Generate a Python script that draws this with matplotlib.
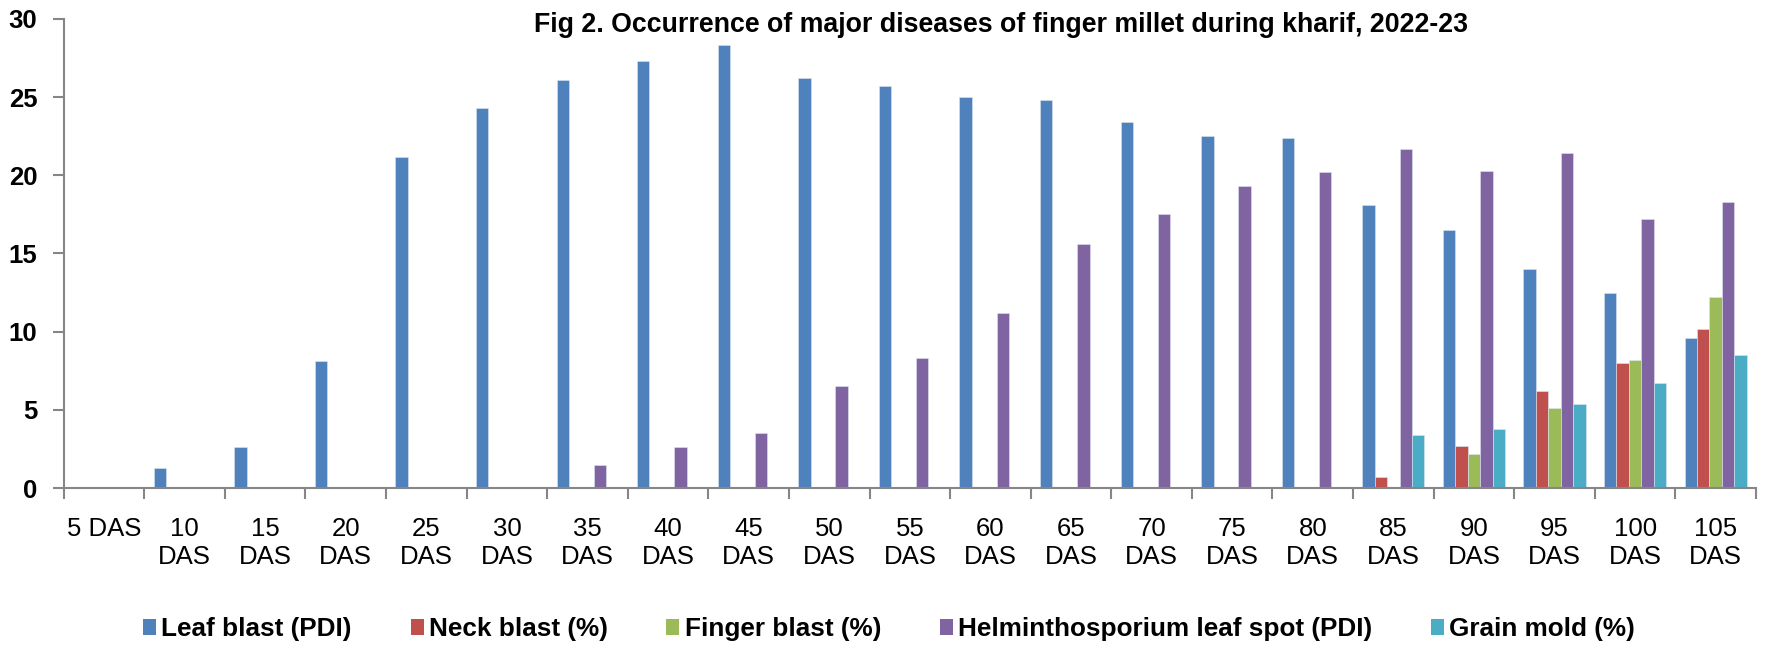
import numpy as np
import matplotlib.pyplot as plt
from matplotlib.patches import Patch

plt.rcParams['font.family'] = ['Liberation Sans', 'DejaVu Sans']

days = ['5 DAS', '10\nDAS', '15\nDAS', '20\nDAS', '25\nDAS', '30\nDAS', '35\nDAS',
        '40\nDAS', '45\nDAS', '50\nDAS', '55\nDAS', '60\nDAS', '65\nDAS', '70\nDAS',
        '75\nDAS', '80\nDAS', '85\nDAS', '90\nDAS', '95\nDAS', '100\nDAS', '105\nDAS']

leaf_blast = [0, 1.3, 2.6, 8.1, 21.2, 24.3, 26.1, 27.3, 28.3, 26.2, 25.7,
              25.0, 24.8, 23.4, 22.5, 22.4, 18.1, 16.5, 14.0, 12.5, 9.6]
neck_blast = [0, 0, 0, 0, 0, 0, 0, 0, 0, 0, 0,
              0, 0, 0, 0, 0, 0.7, 2.7, 6.2, 8.0, 10.2]
finger_blast = [0, 0, 0, 0, 0, 0, 0, 0, 0, 0, 0,
                0, 0, 0, 0, 0, 0, 2.2, 5.1, 8.2, 12.2]
helmintho = [0, 0, 0, 0, 0, 0, 1.5, 2.6, 3.5, 6.5, 8.3,
             11.2, 15.6, 17.5, 19.3, 20.2, 21.7, 20.3, 21.4, 17.2, 18.3]
grain_mold = [0, 0, 0, 0, 0, 0, 0, 0, 0, 0, 0,
              0, 0, 0, 0, 0, 3.4, 3.8, 5.4, 6.7, 8.5]

series = [
    ('Leaf blast (PDI)', leaf_blast, '#4F81BD'),
    ('Neck blast (%)', neck_blast, '#C0504D'),
    ('Finger blast (%)', finger_blast, '#9BBB59'),
    ('Helminthosporium leaf spot (PDI)', helmintho, '#8064A2'),
    ('Grain mold (%)', grain_mold, '#4BACC6'),
]

fig = plt.figure(figsize=(17.71, 6.52), dpi=100)
ax = fig.add_axes([0.036, 0.2515, 0.9555, 0.7195])

x = np.arange(len(days))
w = 0.154
for i, (name, vals, col) in enumerate(series):
    ax.bar(x + (i - 2) * w, vals, w, color=col, edgecolor='#dde6f0', linewidth=0.4, label=name)

ax.set_xlim(-0.5, len(days) - 0.5)
ax.set_ylim(0, 30)
ax.set_yticks(range(0, 31, 5))
ax.set_xticks(x)
ax.set_xticklabels(days, fontsize=18.5, linespacing=1.2)
ax.set_xticks(np.arange(-0.5, len(days), 1), minor=True)
ax.tick_params(axis='x', which='major', length=0, pad=21)
ax.tick_params(axis='x', which='minor', length=8, color='#868686', width=1.5)
ax.tick_params(axis='y', length=8, color='#868686', width=1.5, pad=11)
for lab in ax.get_yticklabels():
    lab.set_fontweight('bold')
    lab.set_fontsize(18.5)

for s in ['top', 'right']:
    ax.spines[s].set_visible(False)
for s in ['left', 'bottom']:
    ax.spines[s].set_color('#868686')
    ax.spines[s].set_linewidth(1.5)

fig.text(0.565, 0.962, 'Fig 2. Occurrence of major diseases of finger millet during kharif, 2022-23',
         ha='center', va='center', fontsize=19.3, fontweight='bold')

handles = [Patch(facecolor=c, label=n) for n, v, c in series]
fig.legend(handles=handles, loc='center', bbox_to_anchor=(0.502, 0.035), ncol=5,
           frameon=False, prop={'weight': 'bold', 'size': 18.8},
           handlelength=0.5, handleheight=0.6, handletextpad=0.2, columnspacing=2.25)

fig.savefig('out.png', dpi=100)
